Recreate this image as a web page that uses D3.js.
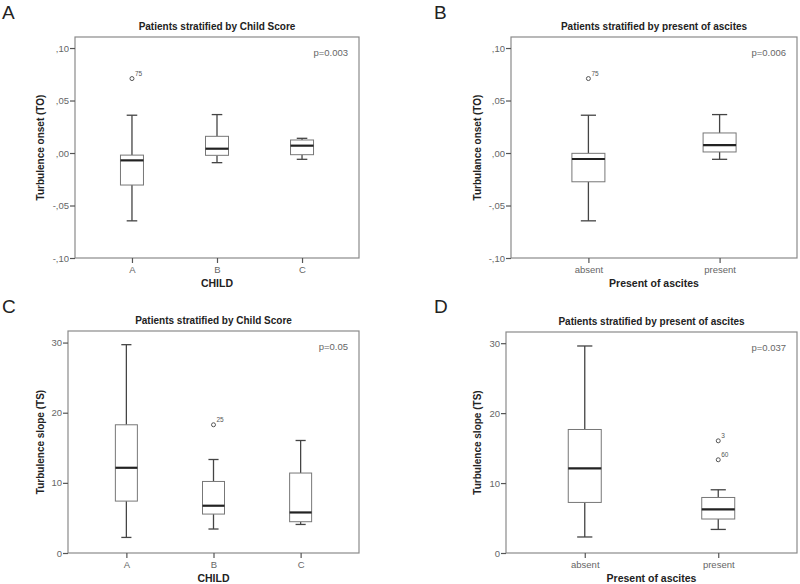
<!DOCTYPE html>
<html><head><meta charset="utf-8">
<script src="https://cdn.jsdelivr.net/npm/d3@7"></script>
<style>body{margin:0;background:#fff}svg{display:block}</style>
</head><body>
<svg id="c" width="800" height="584"></svg>
<script>
// ---- data ----
const childCats = ["A", "B", "C"];
const ascitesCats = ["absent", "present"];
const toTicks = [-0.10, -0.05, 0.00, 0.05, 0.10];
const toTickLabels = ["-,10", "-,05", ",00", ",05", ",10"];
const tsTicks = [0, 10, 20, 30];
const tsTickLabels = ["0", "10", "20", "30"];
// box stats: [low whisker, q1, median, q3, high whisker]
const toChild = [
  [-0.0646, -0.0305, -0.0070, -0.0020, 0.0360],
  [-0.0092, -0.0022, 0.0041, 0.0159, 0.0366],
  [-0.0060, -0.0016, 0.0070, 0.0124, 0.0140]
];
const toChildOutliers = [{cat: "A", v: 0.0709, id: "75"}];
const toAscites = [
  [-0.0646, -0.0274, -0.0057, -0.0003, 0.0360],
  [-0.0060, 0.0010, 0.0076, 0.0191, 0.0366]
];
const toAscitesOutliers = [{cat: "absent", v: 0.0709, id: "75"}];
const tsChild = [
  [2.22, 7.40, 12.15, 18.28, 29.70],
  [3.42, 5.55, 6.74, 10.20, 13.33],
  [4.07, 4.46, 5.78, 11.40, 16.04]
];
const tsChildOutliers = [{cat: "B", v: 18.28, id: "25"}];
const tsAscites = [
  [2.29, 7.23, 12.09, 17.66, 29.60],
  [3.37, 4.86, 6.23, 7.94, 9.04]
];
const tsAscitesOutliers = [{cat: "present", v: 16.04, id: "3"}, {cat: "present", v: 13.33, id: "60"}];
const panelLetters = ["A", "B", "C", "D"];
const titles = ["Patients stratified by Child Score", "Patients stratified by present of ascites",
                "Patients stratified by Child Score", "Patients stratified by present of ascites"];
const pValues = ["p=0.003", "p=0.006", "p=0.05", "p=0.037"];
const yTitles = ["Turbulence onset (TO)", "Turbulance onset (TO)", "Turbulence slope (TS)", "Turbulence slope (TS)"];
const xTitles = ["CHILD", "Present of ascites", "CHILD", "Present of ascites"];

// ---- layout ----
const panels = [
  {L: 75, R: 359, T: 37, B: 258, cats: childCats, stats: toChild, out: toChildOutliers,
   dom: [-0.10, 0.1105], ticks: toTicks, tl: toTickLabels, pad: 0.67, bw: 23, letterX: 2, letterY: 19, ytx: 44},
  {L: 511, R: 797, T: 37, B: 258, cats: ascitesCats, stats: toAscites, out: toAscitesOutliers,
   dom: [-0.10, 0.1105], ticks: toTicks, tl: toTickLabels, pad: 0.59, bw: 33, letterX: 434, letterY: 19, ytx: 481},
  {L: 68, R: 359, T: 331, B: 553, cats: childCats, stats: tsChild, out: tsChildOutliers,
   dom: [0, 31.65], ticks: tsTicks, tl: tsTickLabels, pad: 0.67, bw: 22, letterX: 2, letterY: 313, ytx: 44},
  {L: 506, R: 797, T: 332, B: 553, cats: ascitesCats, stats: tsAscites, out: tsAscitesOutliers,
   dom: [0, 31.6], ticks: tsTicks, tl: tsTickLabels, pad: 0.59, bw: 33, letterX: 434, letterY: 313, ytx: 481}
];

const svg = d3.select("#c");
const F = "Arial, 'Liberation Sans', sans-serif";
const grayText = "#666";

panels.forEach((p, i) => {
  const g = svg.append("g");
  const x = d3.scalePoint().domain(p.cats).range([p.L, p.R]).padding(p.pad);
  const y = d3.scaleLinear().domain(p.dom).range([p.B, p.T]);

  g.append("text").attr("x", p.letterX).attr("y", p.letterY).attr("font-family", F)
    .attr("font-size", 19).attr("fill", "#222").text(panelLetters[i]);
  g.append("text").attr("x", (p.L + p.R) / 2).attr("y", p.T - 7).attr("text-anchor", "middle")
    .attr("font-family", F).attr("font-size", 10).attr("font-weight", "bold").attr("fill", "#222")
    .text(titles[i]);
  g.append("rect").attr("x", p.L).attr("y", p.T).attr("width", p.R - p.L).attr("height", p.B - p.T)
    .attr("fill", "none").attr("stroke", "#8a8a8a").attr("stroke-width", 1.2);

  const ya = g.append("g").attr("transform", `translate(${p.L},0)`)
    .call(d3.axisLeft(y).tickValues(p.ticks).tickSize(5).tickFormat((d, k) => p.tl[k]));
  ya.select(".domain").remove();
  ya.selectAll("line").attr("stroke", "#555").attr("stroke-width", 1.2);
  ya.selectAll("text").attr("font-family", F).attr("font-size", 9.5).attr("fill", grayText).attr("x", -6);

  const xa = g.append("g").attr("transform", `translate(0,${p.B})`)
    .call(d3.axisBottom(x).tickSize(5));
  xa.select(".domain").remove();
  xa.selectAll("line").attr("stroke", "#555").attr("stroke-width", 1.2);
  xa.selectAll("text").attr("font-family", F).attr("font-size", 9.5).attr("fill", grayText).attr("y", 8);

  g.append("text").attr("transform", `translate(${p.ytx},${(p.T + p.B) / 2}) rotate(-90)`)
    .attr("text-anchor", "middle").attr("font-family", F).attr("font-size", 10).attr("font-weight", "bold")
    .attr("fill", "#222").text(yTitles[i]);
  g.append("text").attr("x", x(p.cats[0]) / 2 + x(p.cats[p.cats.length - 1]) / 2).attr("y", p.B + 29)
    .attr("text-anchor", "middle").attr("font-family", F).attr("font-size", 10.5).attr("font-weight", "bold")
    .attr("fill", "#222").text(xTitles[i]);

  g.append("text").attr("x", p.R - 11).attr("y", p.T + 19).attr("text-anchor", "end")
    .attr("font-family", F).attr("font-size", 9.5).attr("fill", grayText).text(pValues[i]);

  p.cats.forEach((c, k) => {
    const s = p.stats[k];
    const cx = x(c), hw = p.bw / 2, cap = p.bw * 0.23;
    const bg = g.append("g");
    bg.append("line").attr("x1", cx).attr("x2", cx).attr("y1", y(s[0])).attr("y2", y(s[1]))
      .attr("stroke", "#444").attr("stroke-width", 1.3);
    bg.append("line").attr("x1", cx).attr("x2", cx).attr("y1", y(s[3])).attr("y2", y(s[4]))
      .attr("stroke", "#444").attr("stroke-width", 1.3);
    bg.append("line").attr("x1", cx - cap).attr("x2", cx + cap).attr("y1", y(s[0])).attr("y2", y(s[0]))
      .attr("stroke", "#444").attr("stroke-width", 1.3);
    bg.append("line").attr("x1", cx - cap).attr("x2", cx + cap).attr("y1", y(s[4])).attr("y2", y(s[4]))
      .attr("stroke", "#444").attr("stroke-width", 1.3);
    bg.append("rect").attr("x", cx - hw).attr("y", y(s[3])).attr("width", p.bw).attr("height", y(s[1]) - y(s[3]))
      .attr("fill", "#fff").attr("stroke", "#777").attr("stroke-width", 1);
    bg.append("line").attr("x1", cx - hw).attr("x2", cx + hw).attr("y1", y(s[2])).attr("y2", y(s[2]))
      .attr("stroke", "#222").attr("stroke-width", 2.2);
  });

  p.out.forEach(o => {
    const cx = x(o.cat), cy = y(o.v);
    g.append("circle").attr("cx", cx).attr("cy", cy).attr("r", 2).attr("fill", "none")
      .attr("stroke", "#555").attr("stroke-width", 1);
    g.append("text").attr("x", cx + 3).attr("y", cy - 3).attr("font-family", F).attr("font-size", 6.5)
      .attr("fill", "#555").text(o.id);
  });
});
</script>
</body></html>
